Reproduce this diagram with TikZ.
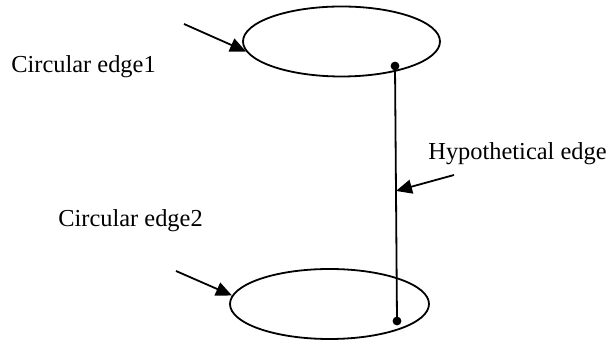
\documentclass[tikz,border=0pt]{standalone}
\usepackage{fontspec}
\setmainfont{Liberation Serif}
\usetikzlibrary{shapes.geometric,arrows.meta,calc}
\begin{document}
\begin{tikzpicture}[x=0.5pt,y=-0.5pt,
  ring/.style={draw,ellipse,line width=0.9pt,inner sep=0pt},
  dotmark/.style={circle,fill,inner sep=0pt,minimum size=4.4pt},
  pointer/.style={-{Triangle[length=8pt,width=7pt]},line width=0.9pt},
  lbl/.style={anchor=base west,inner sep=0pt,font=\fontsize{12.2pt}{14pt}\selectfont}]
\useasboundingbox (0,0) rectangle (609,340);
\node[ring,minimum width=98.5pt,minimum height=35pt] (e1) at (341.5,41.5) {};
\node[ring,minimum width=99.5pt,minimum height=35pt] (e2) at (329.5,304) {};
\node[dotmark] (d1) at (395,66) {};
\node[dotmark] (d2) at (397,321) {};
\draw[line width=0.9pt] (d1.center) -- (d2.center);
\coordinate (hp) at ($(d1.center)!0.49!(d2.center)$);
\node[lbl] (t1) at (11,73) {Circular edge1};
\node[lbl] (t2) at (58,227) {Circular edge2};
\node[lbl] (t3) at (428,160) {Hypothetical edge};
\coordinate (a1) at (184,24);
\coordinate (a2) at (176,271);
\coordinate (a3) at (454,175);
\draw[pointer] (a1) -- (e1.186);
\draw[pointer] (a2) -- (e2.175);
\draw[pointer] (a3) -- (hp);
\end{tikzpicture}
\end{document}
